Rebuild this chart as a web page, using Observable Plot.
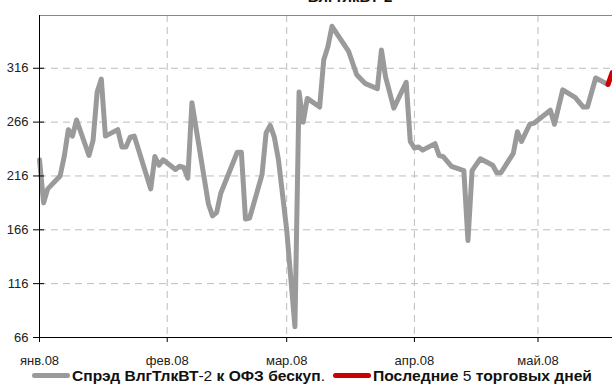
<!DOCTYPE html>
<html><head><meta charset="utf-8">
<script src="https://cdn.jsdelivr.net/npm/d3@7"></script>
<script src="https://cdn.jsdelivr.net/npm/@observablehq/plot@0.6"></script>
<style>
body{margin:0;background:#fff;}
#wrap{position:relative;width:612px;height:386px;overflow:hidden;font-family:"Liberation Sans",Arial,sans-serif;color:#111;}
#title{position:absolute;left:250px;width:200px;text-align:center;top:-11px;font-weight:bold;font-size:15px;line-height:16px;}
#chart{position:absolute;left:0;top:0;}
.sw{position:absolute;height:5px;border-radius:3px;top:373px;}
.lt{position:absolute;top:369px;font-size:15px;line-height:13px;font-weight:bold;white-space:nowrap;transform-origin:0 50%;}
.lt span{font-weight:normal;}
</style></head>
<body><div id="wrap">
<div id="chart"></div>
<div id="title"></div>
<div id="legend"></div>
</div>
<script>
const titleText = "ВлгТлкВТ-2";
const seriesNames = ["Спрэд ВлгТлкВТ-2 к ОФЗ бескуп.", "Последние 5 торговых дней"];
const seriesColors = ["#9a9a9a", "#cc0000"];

const dates = ["2008-01-01","2008-01-02","2008-01-03","2008-01-06","2008-01-07","2008-01-08","2008-01-09","2008-01-10",
"2008-01-13","2008-01-14","2008-01-15","2008-01-16","2008-01-17","2008-01-20","2008-01-21","2008-01-22","2008-01-23","2008-01-24",
"2008-01-28","2008-01-29","2008-01-30","2008-01-31","2008-02-03","2008-02-04","2008-02-05","2008-02-06","2008-02-07",
"2008-02-11","2008-02-12","2008-02-13","2008-02-14","2008-02-18","2008-02-19","2008-02-20","2008-02-21",
"2008-02-24","2008-02-25","2008-02-26","2008-02-27","2008-02-28","2008-03-01","2008-03-03","2008-03-04","2008-03-05","2008-03-06",
"2008-03-09","2008-03-10","2008-03-11","2008-03-12","2008-03-16","2008-03-18","2008-03-20","2008-03-23","2008-03-24","2008-03-25",
"2008-03-27","2008-03-30","2008-03-31","2008-04-01","2008-04-02","2008-04-03","2008-04-06","2008-04-07","2008-04-08",
"2008-04-10","2008-04-13","2008-04-14","2008-04-15","2008-04-17","2008-04-20","2008-04-21","2008-04-22",
"2008-04-25","2008-04-26","2008-04-27","2008-04-29","2008-04-30","2008-05-04","2008-05-05","2008-05-07",
"2008-05-10","2008-05-12","2008-05-13","2008-05-15","2008-05-18"];
const values = [231,191,204,216,234,259,253,268,
235,249,294,306,253,259,243,243,252,253,
204,234,226,231,222,225,224,214,284,
190,179,182,200,238,238,176,177,
217,256,263,252,231,166,76,294,266,288,
280,324,336,355,332,310,302,297,333,308,
279,303,248,242,243,240,246,235,234,
225,221,156,221,232,226,219,219,
237,257,248,264,265,277,264,296,
289,280,280,307,301];

const lastDates = ["2008-05-18","2008-05-19"];
const lastValues = [301,312];

const monthTicks = ["2008-01-01","2008-02-01","2008-03-01","2008-04-01","2008-05-01"];
const monthLabels = ["янв.08","фев.08","мар.08","апр.08","май.08"];
const yTicks = [66,116,166,216,266,316];
const xDomain = ["2008-01-01T00:00Z","2008-05-19T02:00Z"];
const yDomain = [66,365];

const main = dates.map((d,i)=>({date:new Date(d+"T00:00Z"), v:values[i]}));
const last = lastDates.map((d,i)=>({date:new Date(d+"T00:00Z"), v:lastValues[i]}));
const mt = monthTicks.map(d=>new Date(d+"T00:00Z"));
const labelMap = new Map(mt.map((d,i)=>[+d, monthLabels[i]]));

const font = '"Liberation Sans",Arial,sans-serif';
const chart = Plot.plot({
  width: 612, height: 370,
  marginLeft: 39, marginRight: 0, marginTop: 15, marginBottom: 33,
  style: {fontFamily: font, fontSize: "13px", color: "#222", background: "transparent", overflow: "visible"},
  x: {type: "utc", domain: xDomain.map(d=>new Date(d))},
  y: {domain: yDomain},
  marks: [
    Plot.gridX(mt, {stroke: "#bdbdbd", strokeOpacity: 1, strokeDasharray: "7,5"}),
    Plot.gridY(yTicks.slice(1), {stroke: "#bdbdbd", strokeOpacity: 1, strokeDasharray: "7,5"}),
    Plot.ruleY([yDomain[1]], {stroke: "#888"}),
    Plot.line(main, {x: "date", y: "v", stroke: seriesColors[0], strokeWidth: 5, strokeLinejoin: "round", strokeLinecap: "round"}),
    Plot.line(last, {x: "date", y: "v", stroke: seriesColors[1], strokeWidth: 5, strokeLinejoin: "round", strokeLinecap: "round", clip: true}),
    Plot.ruleY([yDomain[0]], {stroke: "#000"}),
    Plot.ruleX([new Date(xDomain[0])], {stroke: "#000"}),
    Plot.axisX(mt, {tickSize: 5, tickPadding: 13, stroke: "#000", tickFormat: d => labelMap.get(+d), label: null}),
    Plot.axisY(yTicks, {tickSize: 11, dx: 5, stroke: "#000", tickFormat: () => "", label: null}),
    Plot.axisY(yTicks, {tickSize: 0, tickPadding: 11, tickFormat: d => String(d), label: null})
  ]
});
document.getElementById("chart").appendChild(chart);
document.getElementById("title").textContent = titleText;

function richText(s){
  // digits, hyphen and period rendered non-bold as in the reference
  return s.replace(/([-0-9.]+)/g, '<span>$1</span>');
}
const legend = document.getElementById("legend");
const swLeft = [32, 333], txLeft = [72, 373], txWidth = [253, 219];
seriesNames.forEach((name,i)=>{
  const sw = document.createElement("div");
  sw.className = "sw"; sw.style.left = swLeft[i]+"px"; sw.style.width = "38px"; sw.style.background = seriesColors[i];
  legend.appendChild(sw);
  const t = document.createElement("div");
  t.className = "lt"; t.style.left = txLeft[i]+"px"; t.innerHTML = richText(name);
  legend.appendChild(t);
  const w = t.getBoundingClientRect().width;
  t.style.transform = `scaleX(${txWidth[i]/w})`;
});
</script>
</body></html>
